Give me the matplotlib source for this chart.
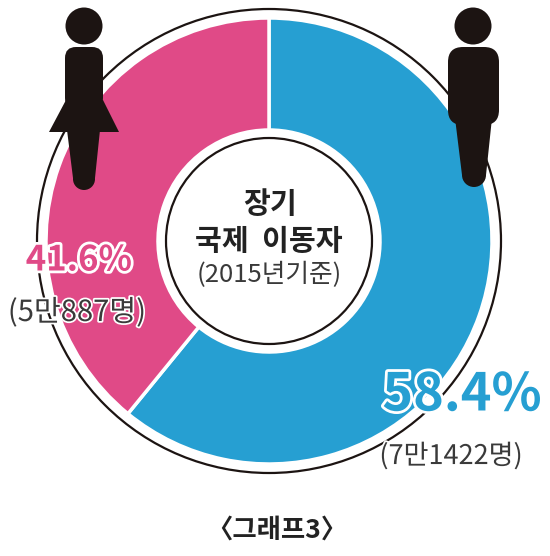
import matplotlib
matplotlib.use("Agg")
import matplotlib.pyplot as plt
import matplotlib.patheffects as pe
from matplotlib.patches import Circle, Polygon, FancyBboxPatch

plt.rcParams['font.family'] = ['Noto Sans CJK KR', 'DejaVu Sans']

# the slices are drawn wider than the printed percentages say, so keep both
categories = ['남성', '여성']
drawn_shares = [60.9, 39.1]
share_labels = ['58.4%', '41.6%']
count_labels = ['(7만1422명)', '(5만887명)']
center_title = ['장기', '국제  이동자']
center_sub = '(2015년기준)'
caption = '〈그래프3〉'

blue = '#269fd2'
pink = '#e04a87'
black = '#1c1412'
grey = '#3a3a3a'

fig = plt.figure(figsize=(5.5, 5.56), dpi=100)
ax = fig.add_axes([0, 0, 1, 1])

cx, cy = 269, 241
# y axis is flipped below, so counterclock here runs clockwise on screen
ax.pie(drawn_shares, colors=[blue, pink], startangle=-90, counterclock=True,
       center=(cx, cy), radius=223, wedgeprops=dict(width=112, linewidth=2.5, edgecolor='white'),
       frame=True)
ax.set_xlim(0, 550)
ax.set_ylim(556, 0)
ax.axis('off')

ax.add_patch(Circle((cx, cy), 232, fill=False, ec=black, lw=1.6, zorder=2))
ax.add_patch(Circle((cx, cy), 103, fc='white', ec=black, lw=1.6, zorder=2))

# woman
ax.add_patch(Circle((84, 26), 18.5, fc=black, ec='none', zorder=3))
ax.add_patch(FancyBboxPatch((76, 58), 16, 40, boxstyle='round,pad=11,rounding_size=11',
                            fc=black, ec='none', zorder=3))
ax.add_patch(Polygon([(66, 100), (103, 100), (119, 132), (49, 132)], fc=black, ec='none', zorder=3))
ax.add_patch(Polygon([(67, 130), (100, 130), (95, 178), (73, 178)], fc=black, ec='none', zorder=3))
ax.add_patch(Circle((84, 179), 11, fc=black, ec='none', zorder=3))

# man
ax.add_patch(Circle((473, 26), 18.5, fc=black, ec='none', zorder=3))
ax.add_patch(FancyBboxPatch((463, 62), 21, 48, boxstyle='round,pad=15,rounding_size=15',
                            fc=black, ec='none', zorder=3))
ax.add_patch(Polygon([(455, 118), (492, 118), (486, 175), (462, 175)], fc=black, ec='none', zorder=3))
ax.add_patch(Circle((474, 175), 12, fc=black, ec='none', zorder=3))

halo = [pe.withStroke(linewidth=4, foreground='white')]
thin_halo = [pe.withStroke(linewidth=2.5, foreground='white')]

ax.text(270, 204, center_title[0], ha='center', va='center', fontsize=21,
        fontweight='bold', color='#222222', zorder=4)
ax.text(269, 241, center_title[1], ha='center', va='center', fontsize=21,
        fontweight='bold', color='#222222', zorder=4)
ax.text(269, 275, center_sub, ha='center', va='center', fontsize=18.5,
        color=grey, zorder=4)

ax.text(79, 260, share_labels[1], ha='center', va='center', fontsize=25,
        fontweight='bold', color=pink, path_effects=halo, zorder=5)
ax.text(77, 313, count_labels[1], ha='center', va='center', fontsize=21,
        color=grey, path_effects=thin_halo, zorder=5)

ax.text(462, 395, share_labels[0], ha='center', va='center', fontsize=37.5,
        fontweight='bold', color=blue, path_effects=halo, zorder=5)
ax.text(451, 456, count_labels[0], ha='center', va='center', fontsize=19.5,
        color=grey, path_effects=thin_halo, zorder=5)

ax.text(277, 530, caption, ha='center', va='center', fontsize=19,
        fontweight='bold', color='#222222', zorder=5)

fig.savefig('out.png', dpi=100)
